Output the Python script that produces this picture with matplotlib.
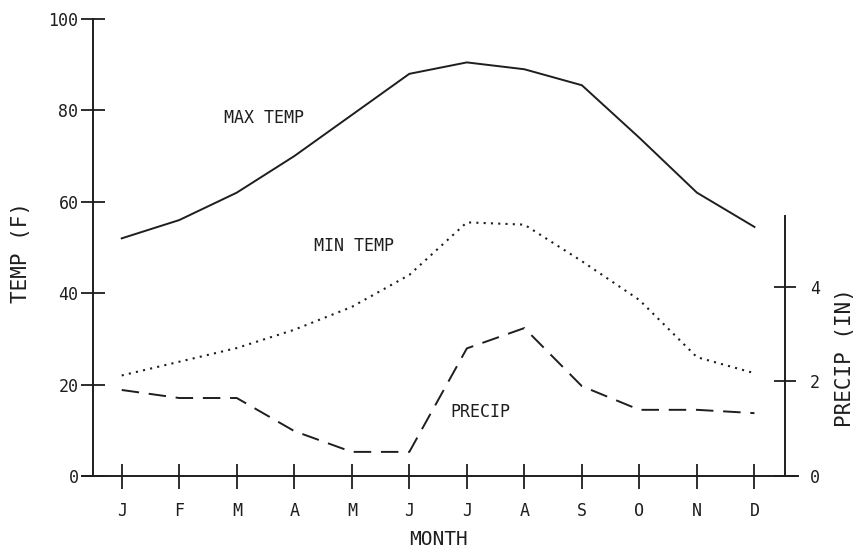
import numpy as np
import matplotlib
matplotlib.use("Agg")
import matplotlib.pyplot as plt

plt.rcParams['font.family'] = ['DejaVu Sans Mono']

# monthly climate data
months = ['J', 'F', 'M', 'A', 'M', 'J', 'J', 'A', 'S', 'O', 'N', 'D']
max_temp = [52, 56, 62, 70, 79, 88, 90.5, 89, 85.5, 74, 62, 54.5]
min_temp = [22, 25, 28, 32, 37, 44, 55.5, 55, 47, 38.5, 26, 22.5]
precip = [1.82, 1.65, 1.65, 0.95, 0.51, 0.51, 2.7, 3.13, 1.9, 1.4, 1.4, 1.33]

ink = '#1e1e1e'
x = np.arange(1, len(months) + 1)

fig = plt.figure(figsize=(8.68, 5.52), dpi=100)
ax = fig.add_axes([0.1071, 0.1377, 0.7972, 0.8279])
ax2 = ax.twinx()

# temperature lines
ax.plot(x, max_temp, color=ink, lw=1.4, solid_joinstyle='round')
ax.plot(x, min_temp, color=ink, lw=1.5, linestyle=(0, (1, 2.5)))
# precipitation on the right axis
ax2.plot(x, precip, color=ink, lw=1.4, linestyle=(0, (9, 5)))

ax.set_xlim(0.5, 12.53)
ax.set_ylim(0, 100)
ax2.set_ylim(0, 9.67)

# axes styling
for s in ['top', 'right', 'bottom']:
    ax.spines[s].set_visible(False)
for s in ['top', 'left', 'bottom']:
    ax2.spines[s].set_visible(False)
ax.spines['left'].set_color(ink)
ax.spines['left'].set_linewidth(1.4)
ax2.spines['right'].set_color(ink)
ax2.spines['right'].set_linewidth(1.4)
ax2.spines['right'].set_bounds(0, 5.5)

# x axis line extends past both vertical axes
ax.plot([-0.016, 1.019], [0, 0], transform=ax.get_yaxis_transform(),
        color=ink, lw=1.4, clip_on=False)

ax.set_yticks([0, 20, 40, 60, 80, 100])
ax.set_xticks(x)
ax.set_xticklabels(months)
ax2.set_yticks([0, 2, 4])

ax.tick_params(axis='y', direction='inout', length=17, width=1.3,
               color=ink, labelsize=12, pad=2, labelcolor=ink)
ax.tick_params(axis='x', direction='inout', length=18, width=1.3,
               color=ink, labelsize=12, pad=10, labelcolor=ink)
ax2.tick_params(axis='y', direction='inout', length=16, width=1.3,
                color=ink, labelsize=12, pad=10, labelcolor=ink)

ax.set_ylabel('TEMP (F)', fontsize=15, color=ink)
ax.yaxis.set_label_coords(-0.09, 0.49)
ax2.set_ylabel('PRECIP (IN)', fontsize=15, color=ink)
ax2.yaxis.set_label_coords(1.073, 0.26)
ax.set_xlabel('MONTH', fontsize=14, color=ink)
ax.xaxis.set_label_coords(0.50, -0.118)

# curve labels
ax.text(3.47, 78.3, 'MAX TEMP', ha='center', va='center', fontsize=12, color=ink)
ax.text(5.03, 50.3, 'MIN TEMP', ha='center', va='center', fontsize=12, color=ink)
ax.text(7.24, 14.0, 'PRECIP', ha='center', va='center', fontsize=12, color=ink)

fig.savefig('out.png', dpi=100, facecolor='white')
